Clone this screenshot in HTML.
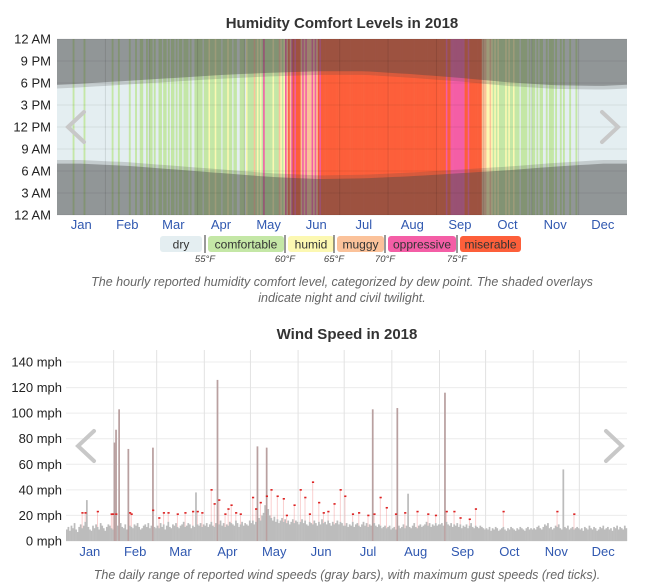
<!DOCTYPE html>
<html><head><meta charset="utf-8"><style>
body{margin:0;background:#fff;}
svg{display:block;font-family:"Liberation Sans",sans-serif;}
</style></head><body>
<svg id="s" width="671" height="586" viewBox="0 0 671 586">
<text x="342" y="28" text-anchor="middle" font-size="15" font-weight="bold" fill="#333">Humidity Comfort Levels in 2018</text>
<g id="hm"></g>
<g id="hmy"></g>
<g id="hmx"></g>
<g id="leg"></g>
<text x="342" y="286" text-anchor="middle" font-size="12.5" font-style="italic" fill="#666">The hourly reported humidity comfort level, categorized by dew point. The shaded overlays</text>
<text x="342" y="302" text-anchor="middle" font-size="12.5" font-style="italic" fill="#666">indicate night and civil twilight.</text>
<text x="347" y="339" text-anchor="middle" font-size="15" font-weight="bold" fill="#333">Wind Speed in 2018</text>
<g id="wg"></g>
<g id="wb"></g>
<g id="wy"></g>
<g id="wx"></g>
<text x="347" y="579" text-anchor="middle" font-size="12.5" font-style="italic" fill="#666">The daily range of reported wind speeds (gray bars), with maximum gust speeds (red ticks).</text>
<g id="arrows"></g>
</svg>
<script>
const months=["Jan","Feb","Mar","Apr","May","Jun","Jul","Aug","Sep","Oct","Nov","Dec"];
const monthDays=[31,28,31,30,31,30,31,31,30,31,30,31];
const levelNames=["dry","comfortable","humid","muggy","oppressive","miserable"];
const levelColors=["#e4eef1","#c4e7a6","#fcf8b2","#fbc29a","#f45ea6","#fd5f3a"];
const levelTemps=["55°F","60°F","65°F","70°F","75°F"];
const hourTicks=["12 AM","3 AM","6 AM","9 AM","12 PM","3 PM","6 PM","9 PM","12 AM"];
const dailyLevel=("0000000000100000010000000000000"+"0000100010000001000100110010"+"1101001101101011010110111010011"+
"111011121112111011121101100111"+"0211113121214111112111321243534"+"545553434333434354555555555555"+
"5555555555555555555555555555555"+"5555555555555555555555555555555"+"555555455444444444554555555553"+
"3322321212111121211211101111010"+"110101100101110100101000100010"+"0000000000000000000000000000000").split("").map(Number);
const sunrise=[7.1,6.8,6.3,5.8,5.3,5.0,5.1,5.4,5.8,6.2,6.7,7.1];
const sunset=[17.8,18.2,18.6,19.0,19.3,19.5,19.5,19.1,18.6,18.0,17.6,17.5];
const maxWind=[9,11,8,12,10,14,9,7,11,13,10,12,15,32,11,9,8,12,10,13,11,9,14,12,10,8,11,13,12,10,9,
77,87,12,103,14,11,10,13,9,72,12,11,10,13,12,14,11,9,10,12,13,11,14,10,12,73,11,10,
12,10,14,11,13,9,12,15,11,10,13,12,14,11,10,12,13,15,11,12,14,13,10,12,11,38,13,12,14,11,13,
12,14,11,13,15,12,11,14,126,13,16,12,14,11,13,12,15,14,13,12,16,14,11,13,15,12,14,13,12,16,
14,16,13,15,74,18,16,20,22,28,73,25,20,18,16,19,15,17,14,16,18,15,17,14,16,13,15,17,14,16,15,
13,15,17,14,16,13,12,15,14,13,16,14,12,15,13,17,14,15,13,16,14,12,15,13,14,16,13,15,14,12,
12,14,11,13,12,15,11,13,14,12,11,13,15,12,14,11,13,12,103,14,12,11,13,12,10,11,12,10,11,12,9,
10,11,9,104,12,10,11,13,10,12,37,11,10,12,14,11,10,12,13,11,12,13,15,12,14,11,13,12,14,12,13,
13,14,12,116,15,13,12,14,11,13,12,14,11,13,10,12,11,13,10,12,14,11,10,12,11,10,12,11,10,9,
10,9,11,8,10,9,11,10,8,9,10,11,9,8,10,9,11,10,9,8,10,9,11,10,9,8,10,11,9,10,9,
10,9,11,12,10,9,11,13,12,14,10,11,9,10,12,11,13,10,9,56,11,10,12,9,10,11,9,10,11,10,
9,10,8,11,10,9,12,10,9,11,10,8,9,11,10,12,9,10,11,9,10,8,11,10,12,9,11,10,9,12,10];
const gustDays=[10,12,20,29,30,32,41,42,56,60,63,66,72,77,82,85,88,94,96,99,103,105,107,110,113,121,123,126,130,133,137,141,143,148,152,155,158,160,164,167,170,174,178,181,186,190,196,200,204,208,214,220,228,235,240,247,252,256,262,266,284,319,330];
const gustVals=[22,22,23,21,21,21,22,21,24,18,22,22,21,22,23,23,22,40,29,32,21,25,28,22,21,34,25,30,35,40,35,33,20,28,40,34,21,46,30,22,23,29,40,35,21,22,20,21,34,26,21,22,23,21,20,23,23,18,17,25,23,23,21];
const windTicks=[0,20,40,60,80,100,120,140];

const NS="http://www.w3.org/2000/svg";
function mk(p,t,a){const e=document.createElementNS(NS,t);for(const k in a)e.setAttribute(k,a[k]);p.appendChild(e);return e;}
// heatmap scales
const HX0=57,HX1=627,HY0=39,HY1=215;
const hx=d=>HX0+(HX1-HX0)*d/365;
const hy=h=>HY1-(HY1-HY0)*h/24;
const hm=document.getElementById('hm');
let r=mk(hm,'rect',{x:HX0,y:HY0,width:HX1-HX0,height:HY1-HY0,fill:levelColors[0]});


dailyLevel.forEach((lv,d)=>{
  if(lv===0)return;
  const c=mk(hm,'rect',{x:hx(d),y:HY0,width:hx(d+1)-hx(d)+0.3,height:HY1-HY0,fill:levelColors[lv]});
  
  
});
// night overlays
function sunAt(arr,d){const m=(d-15)/30.4;let i=Math.floor(m),f=m-i;const a=arr[(i+12)%12],b=arr[(i+13)%12];return a+(b-a)*f;}
function band(off,alpha,name){
  let top="",bot="";
  for(let d=0;d<=365;d+=5){top+=(d?"L":"M")+hx(d)+","+hy(sunset[0]&&sunAt(sunset,d)+off)+" ";}
  top+="L"+HX1+","+HY0+" L"+HX0+","+HY0+" Z";
  for(let d=0;d<=365;d+=5){bot+=(d?"L":"M")+hx(d)+","+hy(sunAt(sunrise,d)-off)+" ";}
  bot+="L"+HX1+","+HY1+" L"+HX0+","+HY1+" Z";
  const p1=mk(hm,'path',{d:top,fill:"rgba(70,70,70,"+alpha+")"});
  
  
  const p2=mk(hm,'path',{d:bot,fill:"rgba(70,70,70,"+alpha+")"});
  
  
}
band(-0.4,0.2,'twilight-overlay');band(0.1,0.4,'night-overlay');
const hmy=document.getElementById('hmy');
hourTicks.forEach((t,i)=>{
  const y=hy(i*3);
  const l=mk(hm,'line',{x1:HX0,x2:HX1,y1:y,y2:y,stroke:"rgba(0,0,0,0.07)"});
  
  
  const e=mk(hmy,'text',{x:51,y:y+4.5,'text-anchor':'end','font-size':13,fill:'#222'});e.textContent=t;
  
  
});
let cum=0;const hmx=document.getElementById('hmx');
months.forEach((m,i)=>{
  if(i>0){const l=mk(hm,'line',{x1:hx(cum),x2:hx(cum),y1:HY0,y2:HY1,stroke:"rgba(0,0,0,0.1)"});
    
    }
  const e=mk(hmx,'text',{x:hx(cum+monthDays[i]/2),y:229,'text-anchor':'middle','font-size':13,fill:'#3058b0'});e.textContent=m;
  
  
  cum+=monthDays[i];
});
// legend
const legX=[160,208,288,337,388,460],legW=[42,76,46,47,68,61];
const leg=document.getElementById('leg');
levelNames.forEach((n,i)=>{
  const g=mk(leg,'g',{});
  
  
  mk(g,'rect',{x:legX[i],y:236,width:legW[i],height:16,rx:3,fill:levelColors[i]});
  const t=mk(g,'text',{x:legX[i]+legW[i]/2,y:248.5,'text-anchor':'middle','font-size':12,fill:'#333'});t.textContent=n;
  if(i>0){mk(g,'line',{x1:legX[i]-3,x2:legX[i]-3,y1:235,y2:253,stroke:'#333'});
    const d=mk(leg,'text',{x:legX[i]-3,y:262,'text-anchor':'middle','font-size':9.5,'font-style':'italic',fill:'#444'});d.textContent=levelTemps[i-1];
    
    }
});
// wind
const WX0=66,WX1=627,WY0=362,WY1=541;
const wx=d=>WX0+(WX1-WX0)*d/365;
const wy=v=>WY1-(WY1-WY0)*v/140;
const wg=document.getElementById('wg'),wyA=document.getElementById('wy');
windTicks.forEach(v=>{
  const l=mk(wg,'line',{x1:WX0,x2:WX1,y1:wy(v),y2:wy(v),stroke:'#ececec'});
  
  
  const t=mk(wyA,'text',{x:62,y:wy(v)+4.5,'text-anchor':'end','font-size':13,fill:'#222'});t.textContent=v+" mph";
  
  
});
cum=0;const wxA=document.getElementById('wx');
months.forEach((m,i)=>{
  if(i>0){const l=mk(wg,'line',{x1:wx(cum),x2:wx(cum),y1:350,y2:WY1,stroke:'#e2e2e2'});
    
    }
  const t=mk(wxA,'text',{x:wx(cum+monthDays[i]/2),y:556,'text-anchor':'middle','font-size':13,fill:'#3058b0'});t.textContent=m;
  
  
  cum+=monthDays[i];
});
const wb=document.getElementById('wb');
gustDays.forEach((d,i)=>{
  const l=mk(wb,'line',{x1:wx(d+0.5),x2:wx(d+0.5),y1:wy(maxWind[d]),y2:wy(gustVals[i]),stroke:'rgba(240,120,120,0.35)','stroke-width':1});
  
  
});
maxWind.forEach((v,d)=>{
  const b=mk(wb,'rect',{x:wx(d),y:wy(v),width:wx(d+1)-wx(d)+0.2,height:WY1-wy(v),fill:v>60?'#b9a0a0':'#bcbcbc'});
  
  
});
gustDays.forEach((d,i)=>{
  const t=mk(wb,'rect',{x:wx(d),y:wy(gustVals[i])-0.8,width:2.2,height:1.6,fill:'#d22'});
  
  
});
// arrows
const ar=document.getElementById('arrows');
[[76,127,-1,'heatmap-prev-arrow'],[610,127,1,'heatmap-next-arrow'],[86,446,-1,'wind-prev-arrow'],[614,446,1,'wind-next-arrow']].forEach(a=>{
  const p=mk(ar,'path',{d:`M${a[0]-a[2]*8},${a[1]-15} L${a[0]+a[2]*8},${a[1]} L${a[0]-a[2]*8},${a[1]+15}`,fill:'none',stroke:'#c8c8c8','stroke-width':4,'stroke-linecap':'round'});
  
  
});
</script>
</body></html>
